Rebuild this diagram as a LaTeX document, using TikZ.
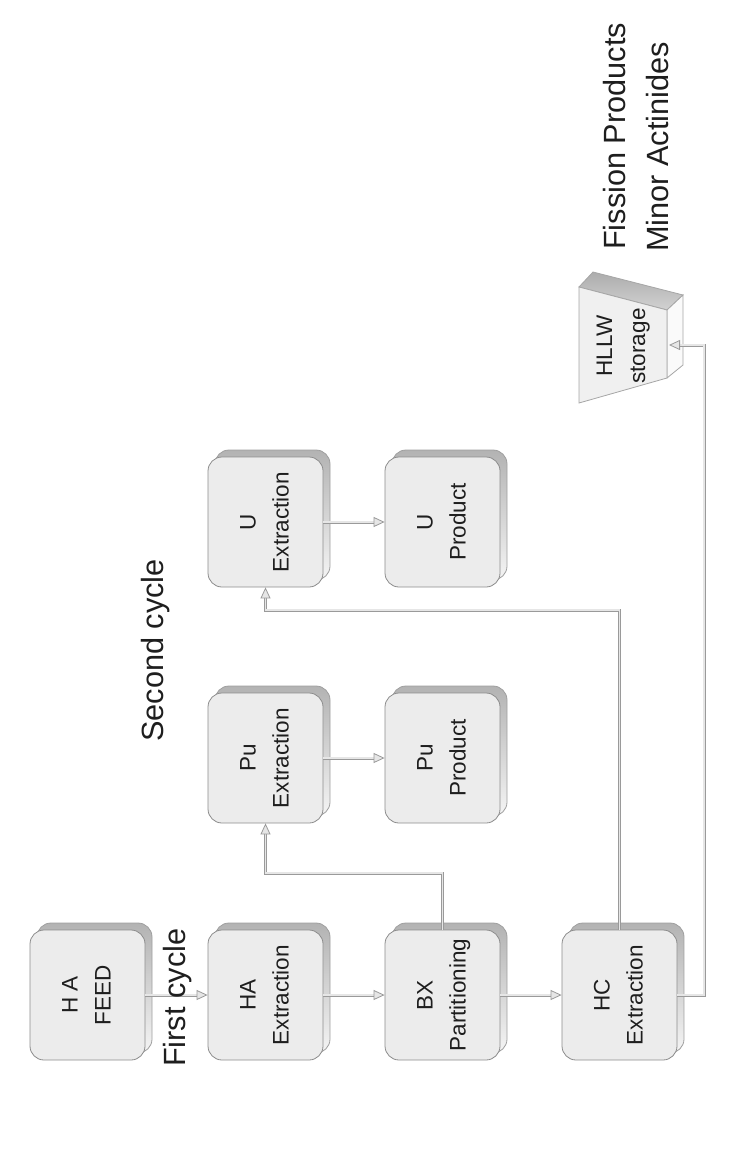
\documentclass[tikz,border=0pt]{standalone}
\usepackage{fontspec}
\setmainfont{Liberation Sans}
\usetikzlibrary{arrows.meta}
\definecolor{facefill}{HTML}{ECECEC}
\definecolor{faceline}{HTML}{8C8C8C}
\definecolor{pipeline}{HTML}{9A9A9A}
\definecolor{pipefill}{HTML}{E6E6E6}
\definecolor{inktext}{HTML}{1E1E1E}

% a process unit: a shaded back plate and a rounded front face with rotated text
\newcommand\procbox[5]{%
  \node[backplate] (#1-back) at (#2+7,#3-7) {};
  \node[procface] (#1) at (#2,#3)
    {\rotatebox{90}{\begin{tabular}{@{}c@{}}#4\\#5\end{tabular}}};
}

\begin{document}
\begin{tikzpicture}[x=1pt,y=-1pt,
  procface/.style={draw=faceline, line width=0.8pt, fill=facefill,
    rounded corners=14pt, minimum width=115pt, minimum height=130pt,
    inner sep=0pt, font=\fontsize{22.5}{33}\selectfont, text=inktext},
  backplate/.style={draw=gray!75, line width=0.8pt,
    top color=gray!60, bottom color=gray!8,
    rounded corners=14pt, minimum width=115pt, minimum height=130pt,
    inner sep=0pt},
  pipe/.style={draw=pipeline, line width=0.8pt, double=pipefill,
    double distance=1.4pt,
    -{Triangle[open, length=11pt, width=10pt, fill=pipefill]}},
  caption/.style={font=\fontsize{30.7}{36}\selectfont, text=inktext,
    rotate=90, anchor=base west, inner sep=0pt}]

\useasboundingbox (0,0) rectangle (731,1174);

% first cycle
\procbox{feed}{87.5}{995}{H A}{FEED}
\procbox{haext}{265.5}{995}{HA}{Extraction}
\procbox{bx}{442.5}{995}{BX}{Partitioning}
\procbox{hc}{619.5}{995}{HC}{Extraction}

% second cycle
\procbox{puext}{265.5}{758}{Pu}{Extraction}
\procbox{puprod}{442.5}{758}{Pu}{Product}
\procbox{uext}{265.5}{522}{U}{Extraction}
\procbox{uprod}{442.5}{522}{U}{Product}

% high-level liquid waste tank
\draw[draw=gray!70, line width=0.8pt, top color=gray!65, bottom color=gray!35]
  (579,287) -- (593,272) -- (683,295) -- (667,310) -- cycle;
\draw[draw=gray!70, line width=0.8pt, fill=gray!4]
  (667,310) -- (683,295) -- (683,365) -- (667,378) -- cycle;
\draw[draw=gray!70, line width=0.8pt, fill=gray!12]
  (579,287) -- (667,310) -- (667,378) -- (579,403) -- cycle;
\node[font=\fontsize{22.5}{33}\selectfont, text=inktext, inner sep=0pt] (hllw) at (622,346)
  {\rotatebox{90}{\begin{tabular}{@{}c@{}}HLLW\\storage\end{tabular}}};
\coordinate (hllwin) at (669,345);

% routing points
\coordinate (pubend) at (265.5,873);
\coordinate (ubend) at (265.5,610);
\coordinate (wbend) at (704,345);

% streams
\draw[pipe] (feed) -- (haext);
\draw[pipe] (haext) -- (bx);
\draw[pipe] (bx) -- (hc);
\draw[pipe] (puext) -- (puprod);
\draw[pipe] (uext) -- (uprod);
\draw[pipe] (bx.north) |- (pubend) -- (puext.south);
\draw[pipe] (hc.north) |- (ubend) -- (uext.south);
\draw[pipe] (hc.east) -| (wbend) -- (hllwin);

% captions
\node[caption] (first) at (185,1067) {First cycle};
\node[caption] (second) at (163,742) {Second cycle};
\node[caption] (fp) at (625,250) {Fission Products};
\node[caption] (ma) at (668,252) {Minor Actinides};

\end{tikzpicture}
\end{document}
